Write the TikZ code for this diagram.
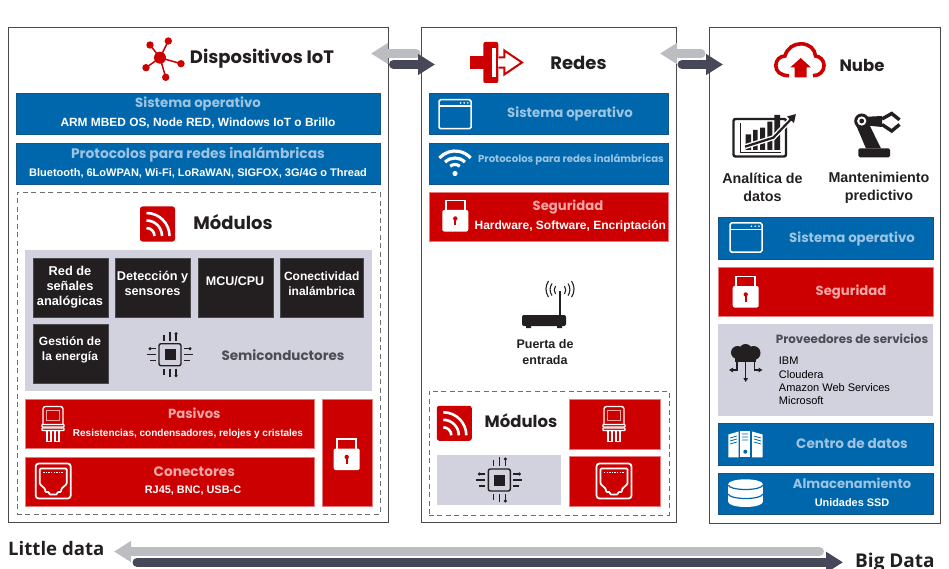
\documentclass[tikz,border=0pt]{standalone}
\usepackage{fontspec}
\setmainfont{Liberation Sans}
\newfontfamily\headfont{Poppins}
\newfontfamily\bandfont{Open Sans}
\usetikzlibrary{arrows.meta}

\definecolor{boxblue}{HTML}{0067AC}
\definecolor{edgeblue}{HTML}{125485}
\definecolor{headblue}{HTML}{9CC4E2}
\definecolor{boxred}{HTML}{CC0000}
\definecolor{edgered}{HTML}{E77A7A}
\definecolor{headred}{HTML}{F1A5A5}
\definecolor{boxgrey}{HTML}{D1D2DD}
\definecolor{boxdark}{HTML}{231F20}
\definecolor{panelline}{HTML}{4A4A4C}
\definecolor{arrowgrey}{HTML}{BCBDC0}
\definecolor{arrowdark}{HTML}{47475A}
\definecolor{greytxt}{HTML}{4C4C55}

\tikzset{
  panel/.style={draw=panelline, line width=1.1pt, fill=white, anchor=north west, inner sep=0pt},
  dashbox/.style={draw=panelline!80, line width=.7pt, dash pattern=on 5pt off 3.5pt, anchor=north west, inner sep=0pt},
  bluebox/.style={draw=edgeblue, line width=.6pt, fill=boxblue, anchor=north west, inner sep=0pt},
  redbox/.style={draw=edgered, line width=.4pt, fill=boxred, anchor=north west, inner sep=0pt},
  greybox/.style={fill=boxgrey, anchor=north west, inner sep=0pt},
  darkbox/.style={draw=panelline, line width=.6pt, fill=boxdark, anchor=north west, inner sep=0pt},
  maintitle/.style={font=\headfont\bfseries\fontsize{16.5}{20}\selectfont, text=boxdark, inner sep=0pt},
  bigtitle/.style={font=\headfont\bfseries\fontsize{18}{22}\selectfont, text=boxdark, inner sep=0pt},
  bluehead/.style={font=\headfont\bfseries\fontsize{13.3}{16}\selectfont, text=headblue, inner sep=0pt},
  redhead/.style={font=\headfont\bfseries\fontsize{13.2}{16}\selectfont, text=headred, inner sep=0pt},
  greyhead/.style={font=\headfont\bfseries\fontsize{13.5}{16}\selectfont, text=greytxt, inner sep=0pt},
  subtxt/.style={font=\bfseries\fontsize{10.9}{13}\selectfont, text=white, inner sep=0pt},
  darktxt/.style={font=\bfseries\fontsize{12.5}{15}\selectfont, text=white, align=center, inner sep=0pt},
  blacktxt/.style={font=\bfseries\fontsize{14.3}{18}\selectfont, text=boxdark, align=center, inner sep=0pt},
  greyarrow/.style={draw=arrowgrey, line width=9pt, line cap=round, -{Triangle[length=17pt,width=20pt]}},
  darkarrow/.style={draw=arrowdark, line width=9pt, line cap=round, -{Triangle[length=17pt,width=20pt]}},
  lockicon/.pic={
    \draw[white, line width=1.6pt] (-9.5,-3) -- (-9.5,-15) -- (9.5,-15) -- (9.5,-3);
    \fill[white, rounded corners=2pt] (-13,-5.5) rectangle (13,16);
    \fill[boxred] (0,3) circle (2.2);
    \fill[boxred] (-1,3) rectangle (1,10);
  },
  windowicon/.pic={
    \draw[white, line width=1.5pt, rounded corners=1.5pt] (-16,-14.5) rectangle (16,14.5);
    \draw[white, line width=1.5pt] (-16,-8) -- (16,-8);
    \fill[white] (5.5,-11.3) circle (.9) (9.2,-11.3) circle (.9) (12.9,-11.3) circle (.9);
  },
  moduleicon/.pic={
    \fill[boxred, rounded corners=2.5pt] (-17.5,-17.5) rectangle (17.5,17.5);
    \draw[white, line width=2.6pt] (-11,-11) arc[start angle=-90, end angle=0, radius=23];
    \draw[white, line width=2.6pt] (-11,-3.5) arc[start angle=-90, end angle=0, radius=15.5];
    \draw[white, line width=2.6pt] (-11,4) arc[start angle=-90, end angle=0, radius=8];
  },
  chipicon/.pic={
    \draw[boxdark, line width=1.4pt, rounded corners=2pt] (-11,-11) rectangle (11,11);
    \fill[boxdark] (-5.5,-5.5) rectangle (5.5,5.5);
    \draw[boxdark, line width=1.1pt] (-6,-14) -- (-6,-20) (0,-14) -- (0,-23) (6,-14) -- (6,-21);
    \draw[boxdark, line width=1.1pt] (-6,14) -- (-6,20) (0,14) -- (0,22) (6,14) -- (6,21);
    \draw[boxdark, line width=1.1pt] (-14,-6) -- (-20,-6) (-14,0) -- (-23,0) (-14,6) -- (-20,6);
    \draw[boxdark, line width=1.1pt] (14,-6) -- (20,-6) (14,0) -- (23,0) (14,6) -- (20,6);
    \fill[boxdark] (6,-21) circle (1.7) (6,21) circle (1.7) (-20,-6) circle (1.7) (20,-6) circle (1.7);
  },
  passiveicon/.pic={
    \draw[white, line width=1.4pt, rounded corners=2.5pt] (-10,-17) rectangle (10,7);
    \draw[headred, line width=.9pt] (-6.5,-13.5) rectangle (6.5,-3);
    \fill[boxred] (-11,.5) rectangle (11,7.5);
    \draw[white, line width=1.1pt, rounded corners=.5pt] (-11,1) rectangle (11,3.5);
    \draw[white, line width=1.1pt, rounded corners=.5pt] (-11,4.5) rectangle (11,7);
    \draw[white, line width=1.2pt] (-6,7) -- (-6,18) -- (-2,18) -- (-2,7);
    \draw[white, line width=1.2pt] (2,7) -- (2,18) -- (6,18) -- (6,7);
  },
  jackicon/.pic={
    \draw[white, line width=1.8pt, rounded corners=3pt] (-17.5,-17.5) rectangle (17.5,17.5);
    \draw[white, line width=1.7pt, fill=boxred, rounded corners=1pt] (-13.5,-12.5) -- (13.5,-12.5) -- (13.5,3) -- (8,8) -- (8,11) -- (4,11) -- (4,13.5) -- (-4,13.5) -- (-4,11) -- (-8,11) -- (-8,8) -- (-13.5,3) -- cycle;
    \draw[white, line width=1pt, dash pattern=on 1.3pt off 1.3pt] (-10,-8.5) -- (10,-8.5);
  },
}

\begin{document}
\begin{tikzpicture}[x=1pt, y=-1pt]
  \clip (0,0) rectangle (949,569);
  % tres paneles
  \node[panel, minimum width=379.5pt, minimum height=495pt] (iotpanel) at (8,27) {};
  \node[panel, minimum width=255.8pt, minimum height=495pt] (netpanel) at (420.5,27) {};
  \node[panel, minimum width=231pt, minimum height=495.5pt] (cloudpanel) at (709,27) {};

  % dispositivos
  \fill[boxred] (160,57.7) circle (6) (150,45) circle (3.7) (168.3,41) circle (3.7) (181,63.7) circle (3.7) (165.7,77.3) circle (3.7) (146,67.7) circle (3.7);
  \draw[boxred, line width=1.5pt] (160,57.7) -- (150,45) (160,57.7) -- (168.3,41) (160,57.7) -- (181,63.7) (160,57.7) -- (165.7,77.3) (160,57.7) -- (146,67.7);
  \node[bigtitle] (iottitle) at (262,59) {Dispositivos IoT};

  \node[bluebox, minimum width=363.5pt, minimum height=41.5pt] (iotos) at (16,93) {};
  \node[bluehead] (iotoshead) at (198,104) {Sistema operativo};
  \node[subtxt, font=\bfseries\fontsize{11.9}{14}\selectfont] (iotostxt) at (198,123.5) {ARM MBED OS, Node RED, Windows IoT o Brillo};
  \node[bluebox, minimum width=363.5pt, minimum height=41.5pt] (iotprot) at (16,143) {};
  \node[bluehead, font=\headfont\bfseries\fontsize{13.8}{16}\selectfont] (iotprothead) at (198,154.5) {Protocolos para redes inalámbricas};
  \node[subtxt, font=\bfseries\fontsize{11}{13}\selectfont] (iotprottxt) at (198,173) {Bluetooth, 6LoWPAN, Wi-Fi, LoRaWAN, SIGFOX, 3G/4G o Thread};

  \node[dashbox, minimum width=363pt, minimum height=322pt] (iotmods) at (16.5,192) {};
  \pic at (157.5,224) {moduleicon};
  \node[bigtitle] (iotmodtitle) at (233,222) {Módulos};

  \node[greybox, minimum width=347pt, minimum height=140.5pt] (semi) at (24.5,250) {};
  \node[darkbox, minimum width=75pt, minimum height=58.5pt] (analog) at (32.5,258) {};
  \node[darkbox, minimum width=75pt, minimum height=58.5pt] (sensor) at (115,258) {};
  \node[darkbox, minimum width=75pt, minimum height=58.5pt] (mcu) at (197.7,258) {};
  \node[darkbox, minimum width=83pt, minimum height=58.5pt] (conect) at (280,258) {};
  \node[darkbox, minimum width=75pt, minimum height=58.5pt] (power) at (32.5,324) {};
  \node[darktxt, font=\bfseries\fontsize{12.8}{15}\selectfont] (analogtxt) at (70,287) {Red de\\señales\\analógicas};
  \node[darktxt, font=\bfseries\fontsize{12.7}{15}\selectfont] (sensortxt) at (152.5,283.8) {Detección y\\sensores};
  \node[darktxt] (mcutxt) at (235,281.5) {MCU/CPU};
  \node[darktxt, font=\bfseries\fontsize{12}{15}\selectfont] (conecttxt) at (321.7,284) {Conectividad\\inalámbrica};
  \node[darktxt, font=\bfseries\fontsize{12}{15}\selectfont] (powertxt) at (70,350) {Gestión de\\la energía};
  \pic at (170,354.7) {chipicon};
  \node[greyhead] (semitxt) at (283,355) {Semiconductores};

  \node[redbox, minimum width=289pt, minimum height=49.5pt] (pasivos) at (24.5,398.5) {};
  \pic at (53,423.5) {passiveicon};
  \node[redhead] (pasivoshead) at (194.3,413.5) {Pasivos};
  \node[subtxt, font=\bfseries\fontsize{10}{12}\selectfont] (pasivostxt) at (188,434.3) {Resistencias, condensadores, relojes y cristales};
  \node[redbox, minimum width=289pt, minimum height=49.5pt] (conectores) at (24.5,456.5) {};
  \pic at (53.2,481) {jackicon};
  \node[redhead, font=\headfont\bfseries\fontsize{13.7}{16}\selectfont] (conectoreshead) at (194.3,471.5) {Conectores};
  \node[subtxt] (conectorestxt) at (193,490.5) {RJ45, BNC, USB-C};
  \node[redbox, minimum width=50pt, minimum height=107.5pt] (iotlock) at (321.7,398.5) {};
  \pic at (346.7,454) {lockicon};

  % redes
  \fill[boxred, rounded corners=2pt] (483.3,42) rectangle (498.3,83);
  \fill[white] (492.3,48) rectangle (495.7,77);
  \fill[boxred] (470,56.3) rectangle (492.3,68.7);
  \fill[white] (498.3,56) rectangle (501,69);
  \draw[boxred, line width=2pt] (498.3,57.3) -- (504.3,57.3) -- (504.3,50.5) -- (522,62.5) -- (504.3,74.5) -- (504.3,67.7) -- (498.3,67.7);
  \node[bigtitle] (nettitle) at (578.5,63) {Redes};

  \node[bluebox, minimum width=239.2pt, minimum height=41.5pt] (netos) at (429,93) {};
  \pic at (455,114.2) {windowicon};
  \node[bluehead] (netoshead) at (570,113.5) {Sistema operativo};
  \node[bluebox, minimum width=239.2pt, minimum height=41.5pt] (netprot) at (429,143) {};
  \draw[white, line width=3.2pt] (455,172) ++(-138:21) arc[start angle=-138, end angle=-42, radius=21];
  \draw[white, line width=3.2pt] (455,172) ++(-135:14) arc[start angle=-135, end angle=-45, radius=14];
  \draw[white, line width=3pt] (455,172) ++(-130:7.5) arc[start angle=-130, end angle=-50, radius=7.5];
  \fill[white] (455,173.5) circle (2.6);
  \node[bluehead, font=\headfont\bfseries\fontsize{10.1}{12}\selectfont] (netprottxt) at (571,159.5) {Protocolos para redes inalámbricas};
  \node[redbox, minimum width=239.2pt, minimum height=48pt] (netsec) at (429,192.5) {};
  \pic at (455.3,215.5) {lockicon};
  \node[redhead] (netsechead) at (568,207.5) {Seguridad};
  \node[subtxt, font=\bfseries\fontsize{12}{14}\selectfont] (netsectxt) at (570.3,226) {Hardware, Software, Encriptación};

  \fill[boxdark, rounded corners=2pt] (522,315) rectangle (566,326);
  \fill[boxdark] (526,326) rectangle (531,328) (557,326) rectangle (562,328);
  \draw[boxdark, line width=1.1pt] (560,291) -- (560,315);
  \draw[boxdark, line width=1.1pt] (555.5,286) arc[start angle=-145, end angle=-215, radius=7];
  \draw[boxdark, line width=1.1pt] (552,283.5) arc[start angle=-145, end angle=-215, radius=10.5];
  \draw[boxdark, line width=1.1pt] (548.5,281) arc[start angle=-145, end angle=-215, radius=14];
  \draw[boxdark, line width=1.1pt] (564.5,286) arc[start angle=-35, end angle=35, radius=7];
  \draw[boxdark, line width=1.1pt] (568,283.5) arc[start angle=-35, end angle=35, radius=10.5];
  \draw[boxdark, line width=1.1pt] (571.5,281) arc[start angle=-35, end angle=35, radius=14];
  \node[blacktxt, font=\bfseries\fontsize{12.5}{16}\selectfont] (gatewaytxt) at (545,352.5) {Puerta de\\entrada};

  \node[dashbox, minimum width=240pt, minimum height=124pt] (netmods) at (428.5,390.5) {};
  \pic at (454.3,423.3) {moduleicon};
  \node[maintitle] (netmodtitle) at (521,421) {Módulos};
  \node[redbox, minimum width=91pt, minimum height=50pt] (netpas) at (569,398.5) {};
  \pic at (614,423.5) {passiveicon};
  \node[greybox, minimum width=124pt, minimum height=50pt] (netsemi) at (437,455) {};
  \pic at (499.3,480) {chipicon};
  \node[redbox, minimum width=91pt, minimum height=50pt] (netcon) at (569,456) {};
  \pic at (614,481) {jackicon};

  % nube
  \draw[boxred, line width=3.6pt] (789,75.7) .. controls (780,75.7) and (775.8,71) .. (775.8,65.5) .. controls (775.8,60) and (780,56) .. (785,56) .. controls (787,48) and (794,43.8) .. (801,43.8) .. controls (809,43.8) and (815,49) .. (815.5,56) .. controls (820,56.5) and (824,60) .. (824,65.5) .. controls (824,71) and (820,75.7) .. (813,75.7);
  \fill[boxred] (800.7,58) -- (811,67.5) -- (806.5,67.5) -- (806.5,77.5) -- (794.5,77.5) -- (794.5,67.5) -- (790.2,67.5) -- cycle;
  \node[maintitle] (cloudtitle) at (862,65) {Nube};

  \draw[boxdark, line width=2.4pt, rounded corners=2pt] (733.5,119) rectangle (786,156.5);
  \draw[boxdark, line width=1pt] (740.7,123) -- (740.7,152.5) -- (781,152.5);
  \fill[boxdark] (745.7,134.3) rectangle (751,150) (753,130) rectangle (757.7,150) (760,127.7) rectangle (765,150) (767.3,121.7) rectangle (772.3,150) (774.3,115) rectangle (780,150);
  \coordinate (trendstart) at (745,146.7);
  \coordinate (trendmid) at (773.3,137.7);
  \coordinate (trendend) at (796,114);
  \draw[white, line width=5pt] (trendstart) -- (trendmid) -- (trendend);
  \draw[boxdark, line width=2.2pt, -{Triangle[length=8pt,width=9pt]}] (trendstart) -- (trendmid) -- (trendend);
  \node[blacktxt] (analyticstxt) at (762.5,187) {Analítica de\\datos};

  \fill[boxdark, rounded corners=1.5pt] (858.3,148.3) rectangle (890,157.3);
  \fill[boxdark] (856,125) -- (866,118) -- (881,148.5) -- (866,148.5) -- cycle;
  \fill[boxdark] (861.7,117) -- (882,116) -- (882,127) -- (861.7,125) -- cycle;
  \fill[boxdark] (861.7,121) circle (7.5);
  \fill[white] (861.7,121) circle (4.6);
  \fill[boxdark] (861.7,121) circle (2.4);
  \draw[boxdark, line width=3.4pt] (882,119) -- (891.7,113.5) -- (899.5,119.8);
  \draw[boxdark, line width=3.4pt] (882,124.5) -- (891.7,131) -- (899.5,124.5);
  \node[blacktxt] (predicttxt) at (879,187.5) {Mantenimiento\\predictivo};

  \node[bluebox, minimum width=215pt, minimum height=41.7pt] (cloudos) at (717.5,217) {};
  \pic at (746,237.5) {windowicon};
  \node[bluehead] (cloudoshead) at (852,238.5) {Sistema operativo};
  \node[redbox, minimum width=215pt, minimum height=49.5pt] (cloudsec) at (717.5,266.7) {};
  \pic at (745.7,291.5) {lockicon};
  \node[redhead] (cloudsechead) at (851,292.5) {Seguridad};

  \node[greybox, minimum width=215pt, minimum height=91.5pt] (vendors) at (717.5,324) {};
  \fill[boxdark] (737.5,352.5) circle (6.5) (745.5,350.5) circle (6.5) (753.5,353) circle (7) (745.5,355) circle (6.5);
  \fill[boxdark] (735,352) rectangle (756,361.5);
  \draw[boxdark, line width=1.3pt, -{Triangle[length=4pt,width=4.5pt]}] (745.7,358) -- (745.7,382);
  \draw[boxdark, line width=1.3pt, -{Triangle[length=4pt,width=4.5pt]}] (737,358) -- (737,370) -- (729,370);
  \draw[boxdark, line width=1.3pt, -{Triangle[length=4pt,width=4.5pt]}] (754.3,358) -- (754.3,370) -- (762.5,370);
  \node[greyhead, font=\headfont\bfseries\fontsize{11.9}{14}\selectfont] (vendorshead) at (852,338.5) {Proveedores de servicios};
  \node[font=\fontsize{11}{13.3}\selectfont, text=black, align=left, anchor=west, inner sep=0pt] (vendorlist) at (778.7,381) {IBM\\Cloudera\\Amazon Web Services\\Microsoft};

  \node[bluebox, minimum width=215pt, minimum height=41.7pt] (datacenter) at (717.5,423.3) {};
  \fill[white] (728.3,434.5) -- (738.7,431.5) -- (738.7,457.3) -- (728.3,457.3) -- cycle;
  \fill[white] (740.3,431) rectangle (750,457.3);
  \fill[white] (752,431.5) -- (762.7,434.5) -- (762.7,457.3) -- (752,457.3) -- cycle;
  \draw[boxblue, line width=.8pt] (730,438) -- (737,436) (730,441) -- (737,439) (730,444) -- (737,442) (742,434) -- (748,434) (742,437) -- (748,437) (742,440) -- (748,440) (754,436) -- (761,438) (754,439) -- (761,441) (754,442) -- (761,444);
  \fill[boxblue] (745.3,451.7) circle (2);
  \node[bluehead, font=\headfont\bfseries\fontsize{13.6}{16}\selectfont] (datacentertxt) at (852,444) {Centro de datos};

  \node[bluebox, minimum width=215pt, minimum height=41.3pt] (storage) at (717.5,473) {};
  \fill[white] (745.5,502) ellipse (17.2 and 5);
  \fill[white] (728.3,484) rectangle (762.7,502);
  \fill[white] (745.5,484) ellipse (17.2 and 4.7);
  \draw[boxblue, line width=1.2pt] (728.3,485) arc[start angle=180, end angle=0, x radius=17.2, y radius=4.5];
  \draw[boxblue, line width=1.2pt] (728.3,494) arc[start angle=180, end angle=0, x radius=17.2, y radius=4.5];
  \node[bluehead, font=\headfont\bfseries\fontsize{13.1}{16}\selectfont] (storagehead) at (852,483.5) {Almacenamiento};
  \node[subtxt] (storagetxt) at (852,502.5) {Unidades SSD};

  % flechas entre paneles
  \coordinate (iotback) at (416,53.5);
  \coordinate (iotbacktip) at (371,53.5);
  \coordinate (iotgo) at (393.5,64.5);
  \coordinate (iotgotip) at (435,64.5);
  \coordinate (netback) at (701,53.5);
  \coordinate (netbacktip) at (660,53.5);
  \coordinate (netgo) at (682,64.5);
  \coordinate (netgotip) at (723,64.5);
  \draw[greyarrow] (iotback) -- (iotbacktip);
  \draw[darkarrow] (iotgo) -- (iotgotip);
  \draw[greyarrow] (netback) -- (netbacktip);
  \draw[darkarrow] (netgo) -- (netgotip);

  % escala inferior
  \coordinate (bandleft) at (819.5,551.5);
  \coordinate (bandlefttip) at (114,551.5);
  \coordinate (bandright) at (137,562.3);
  \coordinate (bandrighttip) at (843,562.3);
  \draw[greyarrow] (bandleft) -- (bandlefttip);
  \draw[darkarrow] (bandright) -- (bandrighttip);
  \node[font=\bandfont\bfseries\fontsize{18.6}{22}\selectfont, text=boxdark, anchor=base west, inner sep=0pt] (littlelabel) at (8,555.5) {Little data};
  \node[font=\bandfont\bfseries\fontsize{19}{22}\selectfont, text=boxdark, anchor=base west, inner sep=0pt] (biglabel) at (855,567.5) {Big Data};
\end{tikzpicture}
\end{document}
